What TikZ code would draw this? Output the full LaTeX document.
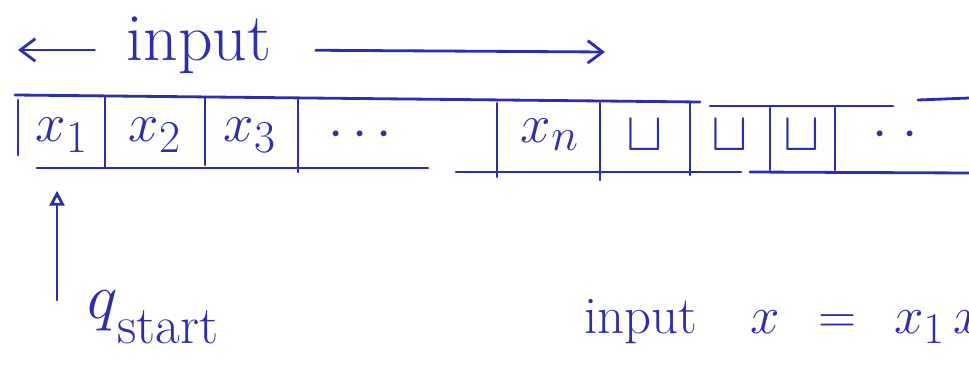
\documentclass[tikz,border=0pt]{standalone}
\usetikzlibrary{arrows.meta, positioning}
\definecolor{cink}{HTML}{2E2EA8}
\tikzset{
  every picture/.style={line width=1.6pt, line cap=round},
  sym/.style={font=\Huge, scale=1.25, inner sep=0pt},
  lbl/.style={font=\Huge, scale=1.55, inner sep=0pt},
  barb/.style={-{Straight Barb[length=3mm, width=4.5mm]}},
  head/.style={-{Triangle[open, length=3mm, width=3mm]}},
}
\begin{document}
\begin{tikzpicture}[x=0.02cm, y=-0.02cm, color=cink]
  \useasboundingbox (0,0) rectangle (969,368);
  \clip (0,0) rectangle (969,368);
  % tape, top and bottom edges
  \draw (15,95) -- (700,102);
  \draw (710,106) -- (893,106);
  \draw (918,100) -- (969,98);
  \draw (37,168) -- (428,168);
  \draw (456,172) -- (741,172);
  \draw (750,172) -- (969,173);
  % cell walls
  \foreach \x/\a/\b in {18/100/155, 105/97/168, 205/97/165, 298/100/172, 497/103/177,
                        600/103/180, 690/103/175, 770/108/170, 835/108/170}
    \draw (\x,\a) -- (\x,\b);
  % cell contents
  \foreach \x/\s [count=\i] in {62/$x_1$, 155/$x_2$, 250/$x_3$, 360/$\cdots$, 550/$x_n$,
                                645/$\sqcup$, 730/$\sqcup$, 802/$\sqcup$, 895/$\cdot\;\cdot$}
    \node[sym] (c\i) at (\x,135) {\s};
  % input span above the tape
  \node[lbl] (inp) at (199,45) {input};
  \coordinate (lend) at (18,50);
  \coordinate (rend) at (605,52);
  \draw[barb, shorten <=17pt] (inp.west |- lend) -- (lend);
  \draw[barb, shorten <=24pt] (inp.east |- lend) -- (rend);
  % head in the start state
  \node[lbl, scale=0.95, anchor=base west] (q) at (85,318)
    {$q$\raisebox{-0.4em}{\huge start}};
  \coordinate (tail) at (57,300);
  \draw[head, shorten >=21pt] (tail) -- (tail |- c1.south);
  % the input word
  \node[lbl, scale=0.78, anchor=base west] (word) at (583,333)
    {input\quad $x \;\,=\;\, x_1\, x_2 \cdots x_n$};
\end{tikzpicture}
\end{document}
